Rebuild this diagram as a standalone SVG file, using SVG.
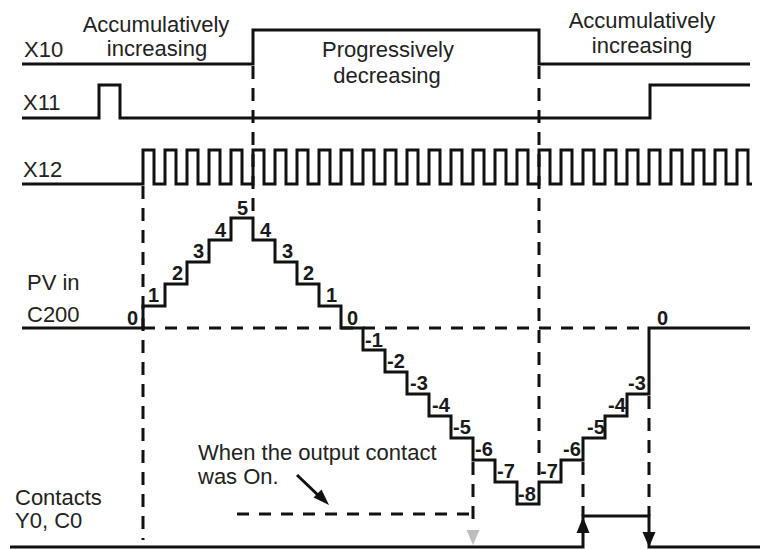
<svg xmlns="http://www.w3.org/2000/svg" width="760" height="549" viewBox="0 0 760 549">
<style>
.bg{fill:#ffffff}
.txt{font-family:"Liberation Sans",Arial,sans-serif;font-size:22px;fill:#222222}
.num{font-family:"Liberation Sans",Arial,sans-serif;font-size:20px;font-weight:bold;fill:#1a1a1a}
.sig{fill:none;stroke:#111111;stroke-width:3;stroke-linejoin:miter;stroke-linecap:butt}
.dv{fill:none;stroke:#111111;stroke-width:3;stroke-dasharray:13 9}
.dh{fill:none;stroke:#111111;stroke-width:3;stroke-dasharray:12 10}
</style>
<rect class="bg" x="0" y="0" width="760" height="549"/>

<g id="labels">
<text class="txt" x="24" y="57">X10</text>
<text class="txt" x="23" y="110">X11</text>
<text class="txt" x="23" y="177">X12</text>
<text class="txt" x="27" y="290">PV in</text>
<text class="txt" x="27" y="322">C200</text>
<text class="txt" x="15" y="505">Contacts</text>
<text class="txt" x="15" y="528">Y0, C0</text>
<text class="txt" x="156" y="32" text-anchor="middle">Accumulatively</text>
<text class="txt" x="157" y="56" text-anchor="middle">increasing</text>
<text class="txt" x="388" y="57" text-anchor="middle">Progressively</text>
<text class="txt" x="387" y="83" text-anchor="middle">decreasing</text>
<text class="txt" x="642" y="28" text-anchor="middle">Accumulatively</text>
<text class="txt" x="642" y="53" text-anchor="middle">increasing</text>
<text class="txt" x="198" y="460">When the output contact</text>
<text class="txt" x="198" y="484">was On.</text>
</g>

<g id="connectors">
<path class="dv" d="M143,186 V540"/>
<path class="dv" d="M253,66 V218"/>
<path class="dv" d="M539,66 V482"/>
<path class="dv" d="M473,462 V520"/>
<path class="dv" d="M583,462 V516"/>
<path class="dv" d="M649,396 V516"/>
<path class="dh" d="M143,328 H649"/>
<path class="dh" d="M237,514 H473"/>
<line x1="297" y1="475" x2="320" y2="497" stroke="#111111" stroke-width="3"/>
<path d="M329,505 L313.5,497.5 L321.5,489.5 Z" fill="#111111"/>
</g>

<g id="x10"><path class="sig" d="M22,64 H253 V30 H539 V64 H750"/></g>
<g id="x11"><path class="sig" d="M22,118 H99 V85 H120 V118 H650 V85 H750"/></g>
<g id="x12"><path class="sig" d="M22,184 H143 V150 H154 V184 H165 V150 H176 V184 H187 V150 H198 V184 H209 V150 H220 V184 H231 V150 H242 V184 H253 V150 H264 V184 H275 V150 H286 V184 H297 V150 H308 V184 H319 V150 H330 V184 H341 V150 H352 V184 H363 V150 H374 V184 H385 V150 H396 V184 H407 V150 H418 V184 H429 V150 H440 V184 H451 V150 H462 V184 H473 V150 H484 V184 H495 V150 H506 V184 H517 V150 H528 V184 H539 V150 H550 V184 H561 V150 H572 V184 H583 V150 H594 V184 H605 V150 H616 V184 H627 V150 H638 V184 H649 V150 H660 V184 H671 V150 H682 V184 H693 V150 H704 V184 H715 V150 H726 V184 H737 V150 H748 V184 H752"/></g>

<g id="pv">
<path class="sig" d="M22,328 H143 V306 H165 V284 H187 V262 H209 V240 H231 V218 H253 V240 H275 V262 H297 V284 H319 V306 H341 V328 H363 V350 H385 V372 H407 V394 H429 V416 H451 V438 H473 V460 H495 V482 H517 V504 H539 V482 H561 V460 H583 V438 H605 V416 H627 V394 H649 V328 H750"/>
<text class="num" x="127" y="325">0</text>
<text class="num" x="148" y="302">1</text>
<text class="num" x="172" y="280">2</text>
<text class="num" x="193" y="258">3</text>
<text class="num" x="215" y="237">4</text>
<text class="num" x="237" y="215">5</text>
<text class="num" x="260" y="237">4</text>
<text class="num" x="282" y="258">3</text>
<text class="num" x="303" y="280">2</text>
<text class="num" x="326" y="302">1</text>
<text class="num" x="347" y="325">0</text>
<text class="num" x="365" y="347">-1</text>
<text class="num" x="387" y="368">-2</text>
<text class="num" x="410" y="390">-3</text>
<text class="num" x="432" y="412">-4</text>
<text class="num" x="453" y="434">-5</text>
<text class="num" x="475" y="456">-6</text>
<text class="num" x="497" y="478">-7</text>
<text class="num" x="518" y="501">-8</text>
<text class="num" x="540" y="478">-7</text>
<text class="num" x="563" y="456">-6</text>
<text class="num" x="587" y="434">-5</text>
<text class="num" x="608" y="412">-4</text>
<text class="num" x="628" y="390">-3</text>
<text class="num" x="657" y="325">0</text>
</g>

<g id="contacts">
<path class="sig" d="M10,547 H583 V516 H649 V547 H760"/>
<path d="M583,517 L576.5,533 L589.5,533 Z" fill="#111111"/>
<path d="M649,547 L642.5,532 L655.5,532 Z" fill="#111111"/>
<path d="M473,545 L466.5,530 L479.5,530 Z" fill="#bdbdbd"/>
</g>
</svg>
